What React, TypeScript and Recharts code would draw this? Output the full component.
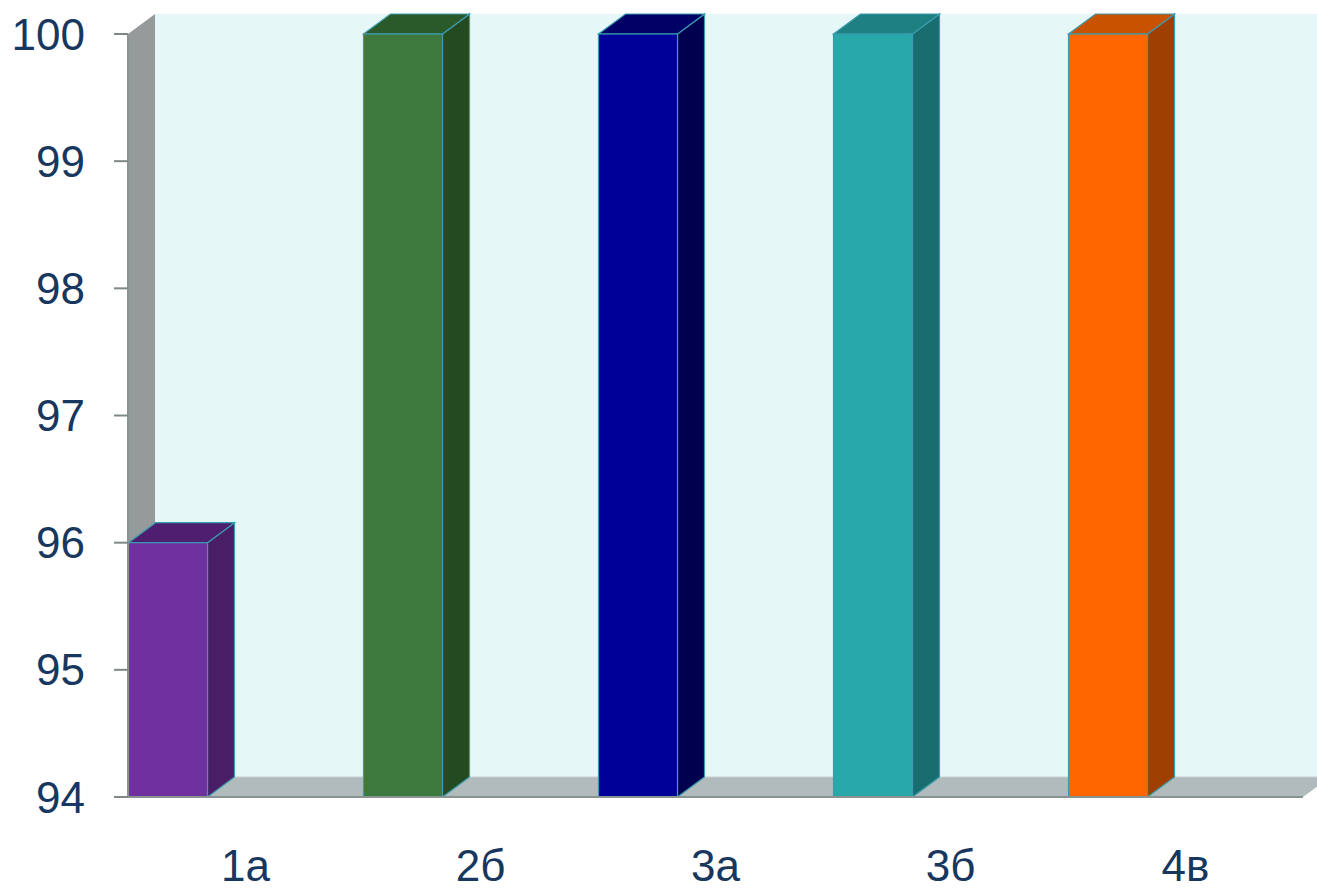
import React from 'react';
import * as R from 'recharts';
import { BarChart, Bar, XAxis, YAxis, Customized } from 'recharts';

const categories = ['1а', '2б', '3а', '3б', '4в'];
const values = [96, 100, 100, 100, 100];
const frontColors = ['#7030A0', '#3D783C', '#000099', '#28A8A8', '#FF6600'];
const sideColors = ['#4A1E66', '#244A22', '#00004F', '#186E6E', '#A04000'];
const topColors = ['#4D1F6E', '#2A5A2A', '#000066', '#1E8080', '#C85200'];
const yTicks = [94, 95, 96, 97, 98, 99, 100];

const data = categories.map((c, i) => ({ name: c, value: values[i], idx: i }));

const W = 1317;
const H = 890;
const DX = 27;
const DY = 20;
const BAND = 235;
const EDGE = '#3A9CB0';

const Walls: React.FC<any> = (props) => {
  const anyR: any = R;
  let area: any = null;
  if (typeof anyR.usePlotArea === 'function') {
    area = anyR.usePlotArea();
  }
  if (!area && props && props.offset) {
    area = { x: props.offset.left, y: props.offset.top, width: props.offset.width, height: props.offset.height };
  }
  if (!area) {
    area = { x: 128, y: 34, width: 1175, height: 763 };
  }
  const left = area.x;
  const top = area.y;
  const right = area.x + area.width;
  const bottom = area.y + area.height;
  return (
    <g>
      <rect x={left + DX} y={top - DY} width={right - left + 40} height={bottom - top} fill="#E6F7F7" />
      <polygon
        points={`${left},${top} ${left + DX},${top - DY} ${left + DX},${bottom - DY} ${left},${bottom}`}
        fill="#959B9B"
      />
      <polygon
        points={`${left},${bottom} ${left + DX},${bottom - DY} ${right + DX},${bottom - DY} ${right},${bottom}`}
        fill="#B2BBBB"
      />
      <line x1={left + DX} y1={bottom - DY} x2={right + DX} y2={bottom - DY} stroke="#C8D0D0" strokeWidth={1} />
    </g>
  );
};

const Bar3D: React.FC<any> = (props) => {
  const { x, y, width, height, payload } = props;
  if (height == null || width == null) return null;
  const i = payload.idx;
  const bx = x + width / 2 - BAND / 2 + 0.5;
  const w = width;
  const t = y;
  const b = y + height;
  return (
    <g>
      <polygon
        points={`${bx + w},${t} ${bx + w + DX},${t - DY} ${bx + w + DX},${b - DY} ${bx + w},${b}`}
        fill={sideColors[i]}
        stroke={EDGE}
        strokeWidth={1.2}
      />
      <polygon
        points={`${bx},${t} ${bx + DX},${t - DY} ${bx + w + DX},${t - DY} ${bx + w},${t}`}
        fill={topColors[i]}
        stroke={EDGE}
        strokeWidth={1.2}
      />
      <rect x={bx} y={t} width={w} height={b - t} fill={frontColors[i]} stroke={EDGE} strokeWidth={1.2} />
    </g>
  );
};

export default function App() {
  return (
    <div style={{ position: 'absolute', left: 0, top: 0, width: W, height: H, background: '#fff' }}>
      <BarChart
        width={W}
        height={H}
        data={data}
        margin={{ top: 34, right: 14, bottom: 0, left: 0 }}
        barSize={79}
        style={{ overflow: 'visible' }}
      >
        <Customized component={Walls} />
        <YAxis
          type="number"
          domain={[94, 100]}
          ticks={yTicks}
          width={128}
          axisLine={{ stroke: '#8A9292', strokeWidth: 2 }}
          tickLine={{ stroke: '#7F8888', strokeWidth: 2 }}
          tickSize={14}
          tickMargin={29}
          tick={{ fill: '#17375E', fontSize: 44, fontFamily: 'Liberation Sans, Arial, sans-serif' }}
        />
        <XAxis
          dataKey="name"
          height={93}
          axisLine={{ stroke: '#8A9292', strokeWidth: 2 }}
          tickLine={false}
          tickSize={0}
          tickMargin={53}
          interval={0}
          tick={{ fill: '#17375E', fontSize: 44, fontFamily: 'Liberation Sans, Arial, sans-serif' }}
        />
        <Bar dataKey="value" isAnimationActive={false} shape={<Bar3D />} baseValue={94} />
      </BarChart>
    </div>
  );
}
